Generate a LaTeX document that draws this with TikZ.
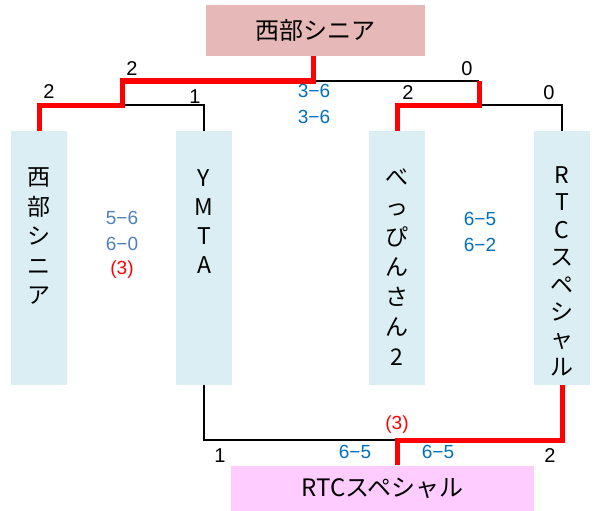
\documentclass[tikz,border=0pt]{standalone}
\usepackage{fontspec}
\setmainfont{Noto Sans CJK JP}
\newfontfamily\numfont{Liberation Sans}
\definecolor{teamfill}{HTML}{DAEEF3}
\definecolor{champfill}{HTML}{E6B8B7}
\definecolor{finalfill}{HTML}{FFCCFF}
\definecolor{scoreblue}{HTML}{0070C0}
\definecolor{scoregray}{HTML}{4F81BD}
\definecolor{winred}{HTML}{FF0000}
\tikzset{
  teambox/.style={fill=teamfill, draw=none, minimum width=56pt, minimum height=254pt, inner sep=0pt},
  vch/.style={anchor=base, inner sep=0pt, font=\fontsize{23}{23}\selectfont},
  winline/.style={draw=winred, line width=5pt},
  loseline/.style={draw=black, line width=2.5pt},
  num/.style={inner sep=0pt, font=\numfont\fontsize{20}{20}\selectfont},
  sc/.style={inner sep=0pt, font=\numfont\fontsize{19}{19}\selectfont, text=scoreblue},
  scg/.style={inner sep=0pt, font=\numfont\fontsize{19}{19}\selectfont, text=scoregray},
  scr/.style={inner sep=0pt, font=\numfont\fontsize{19}{19}\selectfont, text=winred},
}
\begin{document}
\begin{tikzpicture}[x=1pt,y=-1pt]
\useasboundingbox (0,0) rectangle (597,511);
% boxes
\node[fill=champfill, minimum width=219pt, minimum height=51pt, inner sep=0pt, font=\fontsize{24}{24}\selectfont] (T) at (315.5,30.5) {西部シニア};
\node[fill=finalfill, minimum width=303pt, minimum height=45pt, inner sep=0pt, font=\fontsize{24}{24}\selectfont] (B) at (382.5,488) {RTCスペシャル};
\node[teambox] (b1) at (39,258) {};
\node[teambox] (b2) at (204,258) {};
\node[teambox] (b3) at (397,258) {};
\node[teambox] (b4) at (562,258) {};
% vertical team names
\foreach \c [count=\i] in {西,部,シ,ニ,ア}
  \node[vch] (n1-\i) at (39,{177+(\i-1)*29.5+8.5}) {\c};
\foreach \c [count=\i] in {Y,M,T,A}
  \node[vch] (n2-\i) at (204,{178+(\i-1)*29+8.5}) {\c};
\foreach \c [count=\i] in {べ,っ,ぴ,ん,さ,ん,2}
  \node[vch] (n3-\i) at (397,{177+(\i-1)*30+8.5}) {\c};
\foreach \c [count=\i] in {R,T,C,ス,ペ,シ,ャ,ル}
  \node[vch] (n4-\i) at (562,{175+(\i-1)*27.4+8.5}) {\c};
% junctions
\coordinate (m1) at (122,105);
\coordinate (m2) at (479,105);
\coordinate (f) at (313,81);
\coordinate (j) at (397,440);
% bracket lines
\draw[loseline] (m1) -| (b2.north);
\draw[loseline] (m2) -| (b4.north);
\draw[loseline] (f) -- (m2 |- f);
\draw[loseline] (b2.south) |- (j);
\draw[winline] (b1.north) |- (m1) |- (f) -- (f |- T.south);
\draw[winline] (b3.north) |- (m2) -- (m2 |- f);
\draw[winline] (b4.south) |- (j) -- (j |- B.north);
% round scores
\node[num] (s1) at (49,92) {2};
\node[num] (s2) at (195,97) {1};
\node[num] (s3) at (132,69) {2};
\node[num] (s4) at (467,69) {0};
\node[num] (s5) at (408,93) {2};
\node[num] (s6) at (549,93) {0};
\node[num] (s7) at (220,456) {1};
\node[num] (s8) at (550,456) {2};
% game scores
\node[sc] (g1) at (314,91) {3−6};
\node[sc] (g2) at (314,117) {3−6};
\node[scg] (g3) at (122,218) {5−6};
\node[scg] (g4) at (122,244) {6−0};
\node[scr] (g5) at (122,270) {(3)};
\node[sc] (g6) at (480,219) {6−5};
\node[sc] (g7) at (480,245) {6−2};
\node[sc] (g8) at (355,452) {6−5};
\node[sc] (g9) at (438,452) {6−5};
\node[scr] (g10) at (397,425) {(3)};
\end{tikzpicture}
\end{document}
